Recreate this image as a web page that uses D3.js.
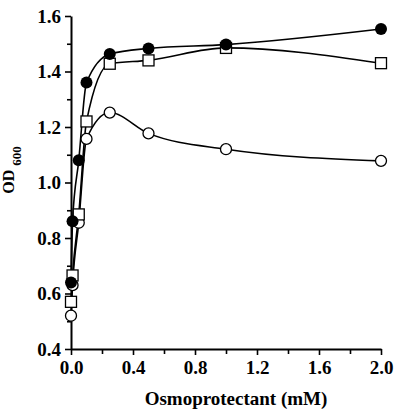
<!DOCTYPE html>
<html><head><meta charset="utf-8">
<script src="https://cdn.jsdelivr.net/npm/d3@7"></script>
<style>body{margin:0;background:#fff}svg{display:block}</style>
</head><body>
<script>
const conc = [0, 0.01, 0.05, 0.1, 0.25, 0.5, 1.0, 2.0];
const filledCircle = [0.64, 0.86, 1.08, 1.36, 1.463, 1.483, 1.497, 1.553];
const openSquare   = [0.57, 0.665, 0.885, 1.22, 1.428, 1.44, 1.485, 1.43];
const openCircle   = [0.52, 0.63, 0.855, 1.157, 1.252, 1.177, 1.12, 1.078];
const xTicks = [0, 0.4, 0.8, 1.2, 1.6, 2.0];
const xMinor = [0.2, 0.6, 1.0, 1.4, 1.8];
const yTicks = [0.4, 0.6, 0.8, 1.0, 1.2, 1.4, 1.6];
const yMinor = [0.5, 0.7, 0.9, 1.1, 1.3, 1.5];

const W = 400, H = 414;
const svg = d3.select("body").append("svg").attr("width", W).attr("height", H);
const x = d3.scaleLinear().domain([0, 2]).range([71, 381]);
const y = d3.scaleLinear().domain([0.4, 1.6]).range([349, 16]);
const font = "'Liberation Serif','Times New Roman',serif";

function styleAxis(g){
  g.select(".domain").attr("stroke","#000").attr("stroke-width",2);
  g.selectAll(".tick line").attr("stroke","#000").attr("stroke-width",1.6);
  g.selectAll("text").attr("font-family",font).attr("font-weight","bold").attr("font-size",19).attr("fill","#000");
}
// minor ticks
svg.append("g").attr("transform",`translate(0,${y(0.4)})`)
  .call(d3.axisBottom(x).tickValues(xMinor).tickSize(5).tickFormat("").tickSizeOuter(0))
  .call(g=>{g.select(".domain").remove(); g.selectAll("line").attr("stroke","#000").attr("stroke-width",1.6);});
svg.append("g").attr("transform",`translate(${x(0)},0)`)
  .call(d3.axisLeft(y).tickValues(yMinor).tickSize(4).tickFormat("").tickSizeOuter(0))
  .call(g=>{g.select(".domain").remove(); g.selectAll("line").attr("stroke","#000").attr("stroke-width",1.6);});

svg.append("g").attr("transform",`translate(0,${y(0.4)})`)
  .call(d3.axisBottom(x).tickValues(xTicks).tickSize(6).tickSizeOuter(0).tickPadding(6).tickFormat(d3.format(".1f")))
  .call(styleAxis);
svg.append("g").attr("transform",`translate(${x(0)},0)`)
  .call(d3.axisLeft(y).tickValues(yTicks).tickSize(6).tickSizeOuter(0).tickPadding(4).tickFormat(d3.format(".1f")))
  .call(styleAxis);

// titles
svg.append("text").attr("x",236).attr("y",405).attr("text-anchor","middle")
  .attr("font-family",font).attr("font-weight","bold").attr("font-size",19).text("Osmoprotectant (mM)");
const yt = svg.append("text").attr("transform","translate(14,170) rotate(-90)").attr("text-anchor","middle")
  .attr("font-family",font).attr("font-weight","bold").attr("font-size",16);
yt.append("tspan").text("OD ");
yt.append("tspan").attr("font-size",13).attr("dy",7).text("600");

const line = d3.line().x((d,i)=>x(conc[i])).y(d=>y(d)).curve(d3.curveMonotoneX);
[filledCircle, openSquare, openCircle].forEach(s=>{
  svg.append("path").attr("d",line(s)).attr("fill","none").attr("stroke","#000").attr("stroke-width",1.6);
});
// markers
svg.append("g").selectAll("circle").data(openCircle).join("circle")
  .attr("cx",(d,i)=>x(conc[i])).attr("cy",d=>y(d)).attr("r",5.5)
  .attr("fill","#fff").attr("stroke","#000").attr("stroke-width",1.3);
svg.append("g").selectAll("rect").data(openSquare).join("rect")
  .attr("x",(d,i)=>x(conc[i])-5.5).attr("y",d=>y(d)-5.5).attr("width",11).attr("height",11)
  .attr("fill","#fff").attr("stroke","#000").attr("stroke-width",1.3);
svg.append("g").selectAll("circle").data(filledCircle).join("circle")
  .attr("cx",(d,i)=>x(conc[i])).attr("cy",d=>y(d)).attr("r",6)
  .attr("fill","#000");
</script>
</body></html>
